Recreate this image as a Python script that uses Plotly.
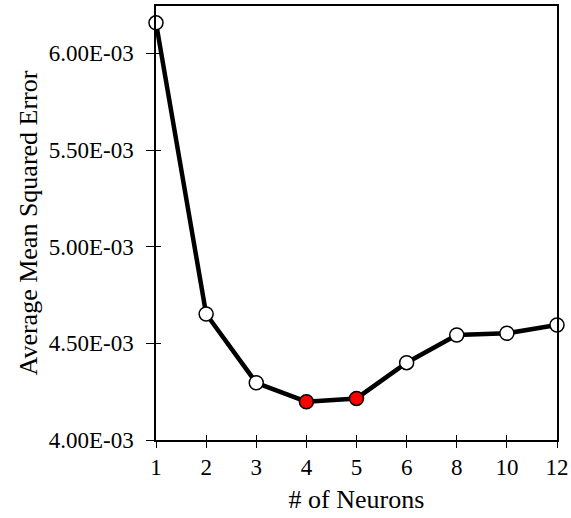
import plotly.graph_objects as go

neurons = ["1", "2", "3", "4", "5", "6", "8", "10", "12"]
mse = [6.158e-3, 4.652e-3, 4.296e-3, 4.198e-3, 4.215e-3, 4.400e-3, 4.543e-3, 4.552e-3, 4.595e-3]
highlight = [False, False, False, True, True, False, False, False, False]
y_tickvals = [4.0e-3, 4.5e-3, 5.0e-3, 5.5e-3, 6.0e-3]
y_ticktext = ["4.00E-03", "4.50E-03", "5.00E-03", "5.50E-03", "6.00E-03"]

FONT = "Liberation Serif, Times New Roman, serif"
colors = ["#ff0000" if h else "#ffffff" for h in highlight]

fig = go.Figure()
fig.add_trace(go.Scatter(
    x=neurons, y=mse, mode="lines+markers",
    line=dict(color="black", width=4.5),
    marker=dict(size=14, color=colors, line=dict(color="black", width=1.5)),
    cliponaxis=False, showlegend=False, hoverinfo="x+y",
))
# invisible copy to drive overlay axes (inside ticks -> crossing ticks)
fig.add_trace(go.Scatter(
    x=neurons, y=mse, mode="lines", line=dict(width=0), opacity=0,
    xaxis="x2", yaxis="y2", showlegend=False, hoverinfo="skip",
))

yr = [4.0e-3, 6.245e-3]
xr = [0, 8]
fig.update_layout(
    width=571, height=518,
    margin=dict(l=156, r=14, t=6, b=78),
    paper_bgcolor="white", plot_bgcolor="white",
    font=dict(family=FONT, size=23, color="black"),
    xaxis=dict(
        type="category", range=xr, showgrid=False, zeroline=False, automargin=False,
        showline=True, linecolor="black", linewidth=1.5, mirror=True,
        ticks="outside", ticklen=6, tickwidth=1.3, tickcolor="black",
        tickfont=dict(family=FONT, size=23),
        title=dict(text="# of Neurons", font=dict(family=FONT, size=26), standoff=10),
    ),
    yaxis=dict(
        range=yr, showgrid=False, zeroline=False, automargin=False,
        showline=True, linecolor="black", linewidth=1.5, mirror=True,
        ticks="outside", ticklen=8, tickwidth=1.3, tickcolor="black",
        tickvals=y_tickvals, ticktext=y_ticktext, ticklabelstandoff=8,
        tickfont=dict(family=FONT, size=23),
        title=dict(text="Average Mean Squared Error", font=dict(family=FONT, size=26), standoff=4),
    ),
    xaxis2=dict(
        type="category", range=xr, overlaying="x", anchor="y2", side="bottom",
        showgrid=False, zeroline=False, showline=False, showticklabels=False,
        ticks="inside", ticklen=5, tickwidth=1.3, tickcolor="black", automargin=False,
    ),
    yaxis2=dict(
        range=yr, overlaying="y", anchor="x2", side="left",
        showgrid=False, zeroline=False, showline=False, showticklabels=False,
        tickvals=y_tickvals, automargin=False,
        ticks="inside", ticklen=5, tickwidth=1.3, tickcolor="black",
    ),
)

fig.write_html("out.html", config={"displayModeBar": False},
               post_script="document.body.style.margin='0';document.body.style.padding='0';")
